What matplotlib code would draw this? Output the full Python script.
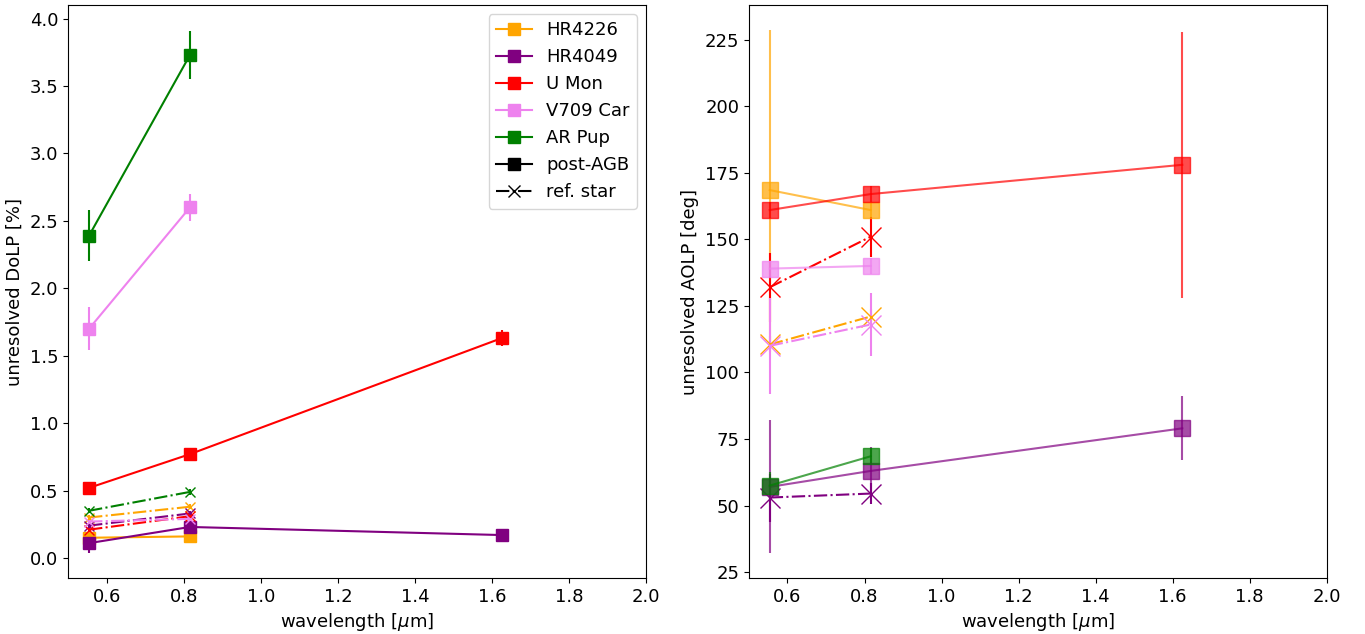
import numpy as np
import matplotlib
matplotlib.use('Agg')
import matplotlib.pyplot as plt
from matplotlib.lines import Line2D

plt.rcParams['font.size'] = 13

# wavelengths of the V, I and H filters [micron]
wave_VI = [0.554, 0.816]
wave_VIH = [0.554, 0.816, 1.625]

names = ['HR4226', 'HR4049', 'U Mon', 'V709 Car', 'AR Pup']
colors = ['orange', 'purple', 'red', 'violet', 'green']

# post-AGB stars: unresolved degree of linear polarisation [%]
dolp = {
    'HR4226': [0.15, 0.16],
    'HR4049': [0.11, 0.23, 0.17],
    'U Mon': [0.52, 0.77, 1.63],
    'V709 Car': [1.70, 2.60],
    'AR Pup': [2.39, 3.73],
}
dolp_err = {
    'HR4226': [0.03, 0.03],
    'HR4049': [0.07, 0.03, 0.04],
    'U Mon': [0.03, 0.03, 0.06],
    'V709 Car': [0.16, 0.10],
    'AR Pup': [0.19, 0.18],
}
# reference stars
dolp_ref = {
    'HR4226': [0.30, 0.38],
    'HR4049': [0.24, 0.33],
    'U Mon': [0.21, 0.31],
    'V709 Car': [0.27, 0.29],
    'AR Pup': [0.35, 0.49],
}
dolp_ref_err = {
    'HR4226': [0.02, 0.02],
    'HR4049': [0.02, 0.02],
    'U Mon': [0.02, 0.02],
    'V709 Car': [0.02, 0.02],
    'AR Pup': [0.02, 0.02],
}

# angle of linear polarisation [deg]
aolp = {
    'HR4226': [168.5, 161.0],
    'HR4049': [57.0, 63.0, 79.0],
    'U Mon': [161.0, 167.0, 178.0],
    'V709 Car': [139.0, 140.0],
    'AR Pup': [57.5, 68.5],
}
aolp_err = {
    'HR4226': [60.0, 3.0],
    'HR4049': [25.0, 9.0, 12.0],
    'U Mon': [3.0, 3.0, 50.0],
    'V709 Car': [3.0, 3.0],
    'AR Pup': [5.0, 3.0],
}
# no AOLP for the AR Pup reference star
aolp_ref = {
    'HR4226': [110.5, 121.0],
    'HR4049': [53.0, 54.5],
    'U Mon': [132.0, 151.0],
    'V709 Car': [110.0, 118.0],
}
aolp_ref_err = {
    'HR4226': [3.0, 3.0],
    'HR4049': [9.0, 4.0],
    'U Mon': [13.0, 7.5],
    'V709 Car': [18.0, 12.0],
}


def waves(vals):
    return wave_VIH if len(vals) == 3 else wave_VI


fig, (ax1, ax2) = plt.subplots(1, 2, figsize=(13.65, 6.34), dpi=100)
fig.subplots_adjust(left=0.05, right=0.972, bottom=0.088, top=0.992, wspace=0.178)

for name, c in zip(names, colors):
    ax1.errorbar(waves(dolp_ref[name]), dolp_ref[name], yerr=dolp_ref_err[name],
                 color=c, ls='-.', marker='x', ms=7)
    ax1.errorbar(waves(dolp[name]), dolp[name], yerr=dolp_err[name],
                 color=c, ls='-', marker='s', ms=8)

for name, c in zip(names, colors):
    if name in aolp_ref:
        ax2.errorbar(waves(aolp_ref[name]), aolp_ref[name], yerr=aolp_ref_err[name],
                     color=c, ls='-.', marker='x', ms=15)
    ax2.errorbar(waves(aolp[name]), aolp[name], yerr=aolp_err[name],
                 color=c, ls='-', marker='s', ms=11, alpha=0.7)

ax1.set_xlim(0.5, 2.0)
ax1.set_ylim(-0.15, 4.1)
ax1.set_xlabel(r'wavelength [$\mu$m]')
ax1.set_ylabel('unresolved DoLP [%]')

ax2.set_xlim(0.5, 2.0)
ax2.set_ylim(22.7, 238)
ax2.set_xlabel(r'wavelength [$\mu$m]')
ax2.set_ylabel('unresolved AOLP [deg]')

handles = [Line2D([], [], color=c, marker='s', ms=8) for c in colors]
handles.append(Line2D([], [], color='black', marker='s', ms=8))
handles.append(Line2D([], [], color='black', ls='-.', marker='x', ms=8))
ax1.legend(handles, names + ['post-AGB', 'ref. star'], loc='upper right')

plt.savefig('out.png')
